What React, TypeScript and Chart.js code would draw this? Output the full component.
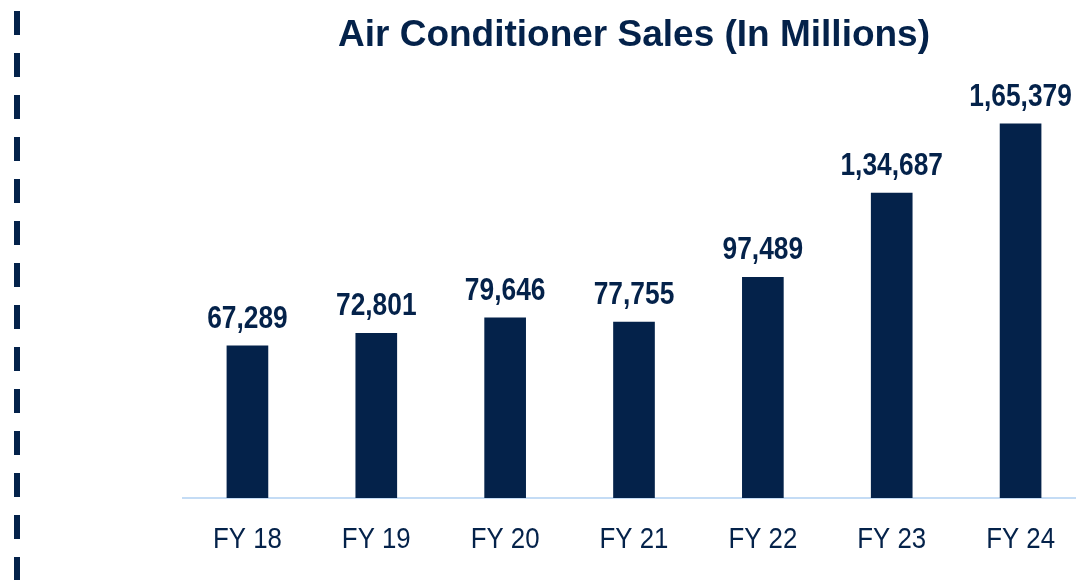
import React, { useEffect, useRef } from "react";
import { Chart, registerables } from "chart.js";

Chart.register(...registerables);

const categories = ["FY 18", "FY 19", "FY 20", "FY 21", "FY 22", "FY 23", "FY 24"];
const sales = [67289, 72801, 79646, 77755, 97489, 134687, 165379];
const chartTitle = "Air Conditioner Sales (In Millions)";

const NAVY = "#04224a";
const WIDE = "'Liberation Sans', Arial, sans-serif";

function formatIndian(n: number): string {
  const s = String(Math.round(n));
  if (s.length <= 3) return s;
  const last3 = s.slice(-3);
  let rest = s.slice(0, -3);
  const parts: string[] = [];
  while (rest.length > 2) {
    parts.unshift(rest.slice(-2));
    rest = rest.slice(0, -2);
  }
  if (rest.length) parts.unshift(rest);
  return parts.join(",") + "," + last3;
}

// draw text horizontally condensed (narrow face substitute)
function drawNarrow(ctx: CanvasRenderingContext2D, text: string, x: number, y: number, factor: number) {
  ctx.save();
  ctx.translate(x, y);
  ctx.scale(factor, 1);
  ctx.fillText(text, 0, 0);
  ctx.restore();
}

const dashedEdge = {
  id: "dashedEdge",
  beforeDraw(chart: any) {
    const ctx = chart.ctx;
    ctx.save();
    ctx.strokeStyle = NAVY;
    ctx.lineWidth = 6;
    ctx.setLineDash([24, 18]);
    ctx.beginPath();
    ctx.moveTo(17, 11);
    ctx.lineTo(17, chart.height);
    ctx.stroke();
    ctx.restore();
  },
};

const valueLabels = {
  id: "valueLabels",
  afterDatasetsDraw(chart: any) {
    const ctx = chart.ctx;
    const meta = chart.getDatasetMeta(0);
    ctx.save();
    ctx.fillStyle = NAVY;
    ctx.font = `bold 31px ${WIDE}`;
    ctx.textAlign = "center";
    ctx.textBaseline = "alphabetic";
    meta.data.forEach((bar: any, i: number) => {
      drawNarrow(ctx, formatIndian(sales[i]), bar.x, bar.y - 18, 0.85);
    });
    ctx.restore();
  },
};

const categoryLabels = {
  id: "categoryLabels",
  afterDraw(chart: any) {
    const ctx = chart.ctx;
    const scale = chart.scales.x;
    ctx.save();
    ctx.fillStyle = NAVY;
    ctx.font = `30px ${WIDE}`;
    ctx.textAlign = "center";
    ctx.textBaseline = "alphabetic";
    categories.forEach((c, i) => {
      drawNarrow(ctx, c, scale.getPixelForTick(i), chart.chartArea.bottom + 50, 0.86);
    });
    ctx.restore();
  },
};

export default function App() {
  const ref = useRef<HTMLCanvasElement | null>(null);

  useEffect(() => {
    document.body.style.margin = "0";
    if (!ref.current) return;
    const chart = new Chart(ref.current, {
      type: "bar",
      data: {
        labels: categories,
        datasets: [
          {
            data: sales,
            backgroundColor: NAVY,
            borderWidth: 0,
            barThickness: 41,
          },
        ],
      },
      options: {
        responsive: false,
        animation: false,
        devicePixelRatio: 1,
        layout: { padding: { left: 183, right: 1, top: 0, bottom: 2 } },
        plugins: {
          legend: { display: false },
          tooltip: { enabled: false },
          title: {
            display: true,
            text: chartTitle,
            color: NAVY,
            font: { family: WIDE, size: 37, weight: "bold", lineHeight: 1.2 },
            padding: { top: 14, bottom: 9.6 },
          },
        },
        scales: {
          x: {
            grid: { display: false, drawTicks: false },
            border: { display: true, color: "#c4dcf5", width: 2 },
            ticks: {
              color: "rgba(0,0,0,0)",
              padding: 22,
              font: { family: WIDE, size: 30, lineHeight: 1.2 },
            },
          },
          y: {
            display: false,
            min: 0,
            max: 190000,
          },
        },
      },
      plugins: [dashedEdge, valueLabels, categoryLabels],
    });
    return () => chart.destroy();
  }, []);

  return (
    <div style={{ width: 1076, height: 580, overflow: "hidden", background: "#fff" }}>
      <canvas ref={ref} width={1086} height={580} style={{ display: "block" }} />
    </div>
  );
}
